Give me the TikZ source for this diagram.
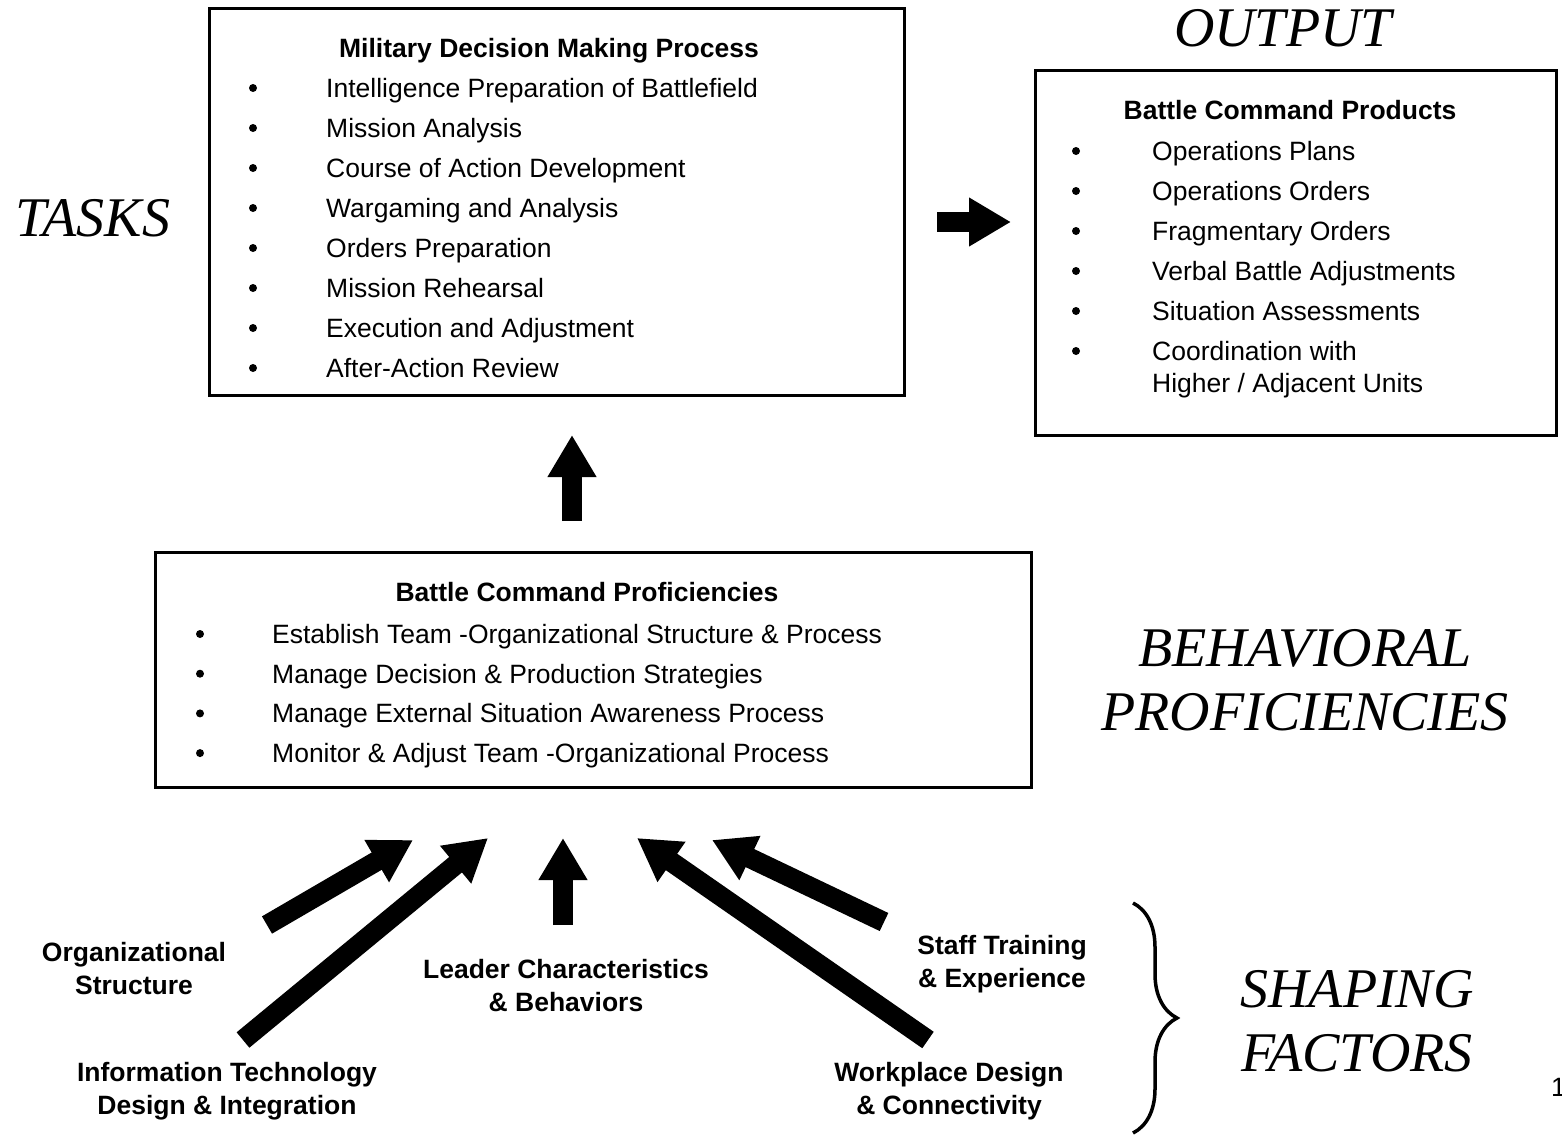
\documentclass[tikz,border=0pt]{standalone}
\usepackage{fontspec}
\setmainfont{Liberation Sans}
\newfontfamily\tnr{Liberation Serif}
\usetikzlibrary{arrows.meta,decorations.pathreplacing}

\tikzset{
  box/.style={draw, line width=3pt, inner sep=0pt},
  txt/.style={inner sep=0pt, text height=19pt, text depth=0pt, font=\fontsize{26.5}{32}\selectfont},
  item/.style={txt, anchor=west},
  ttl/.style={txt, font=\fontsize{26.5}{32}\selectfont\bfseries},
  lbl/.style={inner sep=0pt, align=center, font=\fontsize{26.5}{33}\selectfont\bfseries},
  big/.style={inner sep=0pt, align=center, font=\fontsize{56}{64}\selectfont\tnr\itshape},
  fat/.style={line width=20pt, -{Triangle[length=42pt,width=46pt]}},
}

\begin{document}
\begin{tikzpicture}[x=1pt, y=-1pt, line join=miter]
\useasboundingbox (0,0) rectangle (1562,1135);
\path
  (937,222)coordinate(r0)
  (1011,222)coordinate(r1)
  (572,521)coordinate(u0)
  (572,435)coordinate(u1)
  (267,925)coordinate(a0)
  (413,840)coordinate(a1)
  (243,1040)coordinate(b0)
  (488,838)coordinate(b1)
  (563,925)coordinate(c0)
  (563,838)coordinate(c1)
  (928,1040)coordinate(d0)
  (637,838)coordinate(d1)
  (884,922)coordinate(e0)
  (712,840)coordinate(e1)
  ;
% boxes
\node[box, minimum width=695pt, minimum height=387pt] (mdmp) at (556.5,201.5) {};
\node[box, minimum width=521pt, minimum height=365pt] (out) at (1295.5,252.5) {};
\node[box, minimum width=876pt, minimum height=235pt] (bcp) at (593,669.5) {};

\node[ttl] (mdmpT) at (549,48) {Military Decision Making Process};
\foreach \t [count=\i] in {Intelligence Preparation of Battlefield, Mission Analysis,
    Course of Action Development, Wargaming and Analysis, Orders Preparation,
    Mission Rehearsal, Execution and Adjustment, After-Action Review}{
  \fill (253,48+40*\i) circle (4pt);
  \node[item] (m\i) at (326,48+40*\i) {\t};
}

\node[ttl] (outT) at (1290,110) {Battle Command Products};
\foreach \t [count=\i] in {Operations Plans, Operations Orders, Fragmentary Orders,
    Verbal Battle Adjustments, Situation Assessments, Coordination with}{
  \fill (1076,111+40*\i) circle (4pt);
  \node[item] (o\i) at (1152,111+40*\i) {\t};
}
\node[item] (o7) at (1152,383) {Higher / Adjacent Units};

\node[ttl] (bcpT) at (587,592) {Battle Command Proficiencies};
\foreach \t [count=\i] in {Establish Team -Organizational Structure \& Process,
    Manage Decision \& Production Strategies,
    Manage External Situation Awareness Process,
    Monitor \& Adjust Team -Organizational Process}{
  \fill (200,594.3+39.7*\i) circle (4pt);
  \node[item] (p\i) at (272,594.3+39.7*\i) {\t};
}

% side labels
\node[big] (tasks) at (93,218) {TASKS};
\node[big] (output) at (1283,28) {OUTPUT};
\node[big] (behav) at (1305,680) {BEHAVIORAL\\PROFICIENCIES};
\node[big] (shape) at (1357,1021) {SHAPING\\FACTORS};

% shaping factors
\node[lbl] (org) at (134,969) {Organizational\\Structure};
\node[lbl] (info) at (227,1091) {Information Technology\\Design \& Integration};
\node[lbl] (lead) at (566,986) {Leader Characteristics\\\& Behaviors};
\node[lbl] (staff) at (1002,964) {Staff Training\\\& Experience};
\node[lbl] (work) at (949,1091) {Workplace Design\\\& Connectivity};

\node[anchor=west, inner sep=0pt, font=\fontsize{26.5}{32}\selectfont] (pg) at (1551,1087) {1};

% arrows
\foreach \s/\e in {r0/r1,u0/u1,a0/a1,b0/b1,c0/c1,d0/d1,e0/e1}
  \draw[fat] (\s)--(\e);

\draw[line width=3.5pt, decorate, decoration={brace, amplitude=44pt}] (1133,903)--(1133,1133);
\end{tikzpicture}
\end{document}
